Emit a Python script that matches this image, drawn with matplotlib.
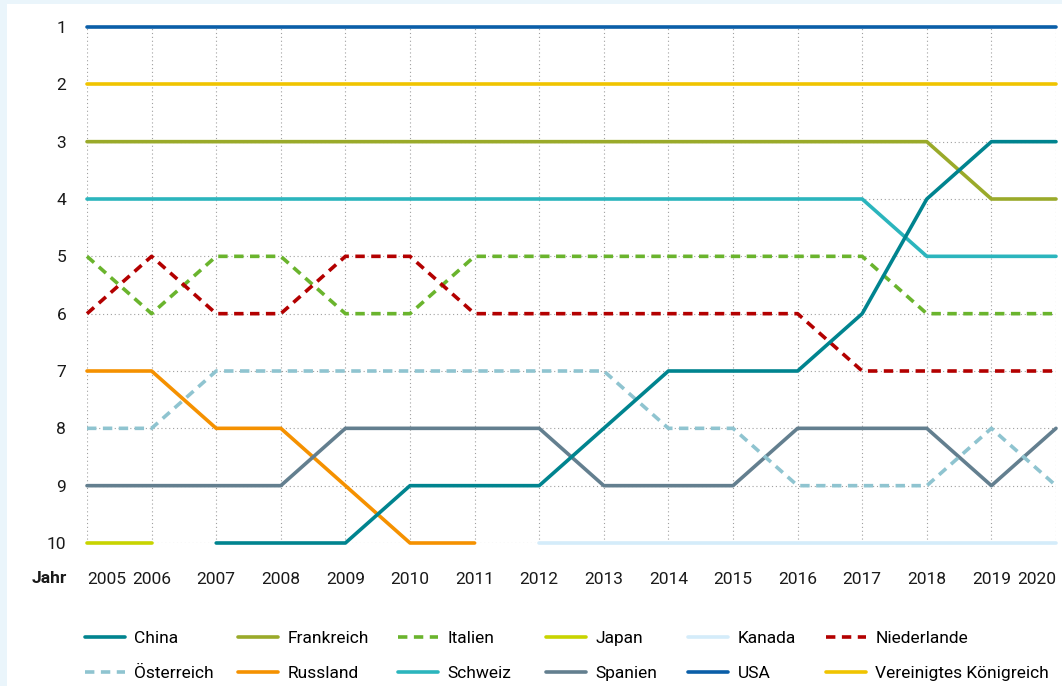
import matplotlib
matplotlib.use("Agg")
import matplotlib.pyplot as plt
from matplotlib.patches import Rectangle

plt.rcParams['font.family'] = ['Roboto', 'DejaVu Sans']

years = list(range(2005, 2021))
N = None

china = [N, N, 10, 10, 10, 9, 9, 9, 8, 7, 7, 7, 6, 4, 3, 3]
frankreich = [3] * 14 + [4, 4]
italien = [5, 6, 5, 5, 6, 6, 5, 5, 5, 5, 5, 5, 5, 6, 6, 6]
japan = [10, 10] + [N] * 14
kanada = [N] * 7 + [10] * 9
niederlande = [6, 5, 6, 6, 5, 5, 6, 6, 6, 6, 6, 6, 7, 7, 7, 7]
oesterreich = [8, 8, 7, 7, 7, 7, 7, 7, 7, 8, 8, 9, 9, 9, 8, 9]
russland = [7, 7, 8, 8, 9, 10, 10] + [N] * 9
schweiz = [4] * 13 + [5, 5, 5]
spanien = [9, 9, 9, 9, 8, 8, 8, 8, 9, 9, 9, 8, 8, 8, 9, 8]
usa = [1] * 16
vk = [2] * 16

countries = ['China', 'Frankreich', 'Italien', 'Japan', 'Kanada', 'Niederlande',
             'Österreich', 'Russland', 'Schweiz', 'Spanien', 'USA', 'Vereinigtes Königreich']
series = [china, frankreich, italien, japan, kanada, niederlande,
          oesterreich, russland, schweiz, spanien, usa, vk]
colors = ['#00848f', '#9aaa2a', '#6ab42d', '#c8d400', '#d4ecfa', '#b30000',
          '#8fc4d0', '#f59100', '#2bb5bd', '#637f8f', '#0a5ea8', '#f0c400']
dashed = {'Italien', 'Niederlande', 'Österreich'}

W, H = 1062, 686
fig = plt.figure(figsize=(W / 100, H / 100), dpi=100, facecolor='#eaf5fb')
fig.patches.append(Rectangle((7 / W, 0), 1, 1 - 4 / H, transform=fig.transFigure,
                             facecolor='white', edgecolor='none', zorder=-5))

ax = fig.add_axes([87 / W, 1 - 543 / H, (1056 - 87) / W, (543 - 27) / H])
ax.set_facecolor('none')

# draw order: keep China on top
order = [4, 3, 7, 9, 6, 2, 5, 8, 1, 11, 10, 0]
handles = {}
for i in order:
    ys = [float('nan') if v is None else v for v in series[i]]
    ls = (0, (2.6, 1.8)) if countries[i] in dashed else '-'
    line, = ax.plot(years, ys, color=colors[i], lw=2.6, ls=ls,
                    solid_capstyle='round', dash_capstyle='butt',
                    clip_on=False, zorder=3)
    handles[countries[i]] = line

ax.set_xlim(2005, 2020)
ax.set_ylim(10, 1)
ax.set_xticks(years)
ax.set_yticks(range(1, 11))
ax.grid(True, color='#a0a0a0', ls=(0, (1, 2.5)), lw=0.8, zorder=1)
for s in ax.spines.values():
    s.set_visible(False)
ax.tick_params(length=0, labelsize=12.5, colors='#1a1a1a')
ax.tick_params(axis='y', pad=15)
ax.tick_params(axis='x', pad=21)
xl = ax.get_xticklabels()
xl[0].set_horizontalalignment('left')
xl[-1].set_horizontalalignment('right')
fig.text(67 / W, 1 - 578.5 / H, 'Jahr', ha='right', va='center',
         fontsize=12.5, fontweight='bold', color='#1a1a1a')

# one small legend per column, rows: first six / last six countries
col_x = [85, 238, 398, 546, 688, 826]
for c, x in enumerate(col_x):
    names = [countries[c], countries[c + 6]]
    leg = fig.legend([handles[n] for n in names], names,
                     loc='center left', bbox_to_anchor=(x / W, 1 - 656 / H),
                     frameon=False, fontsize=12.5, handlelength=2.3,
                     handletextpad=0.55, labelspacing=1.12,
                     borderpad=0, borderaxespad=0)

fig.savefig('out.png', dpi=100, facecolor=fig.get_facecolor())
